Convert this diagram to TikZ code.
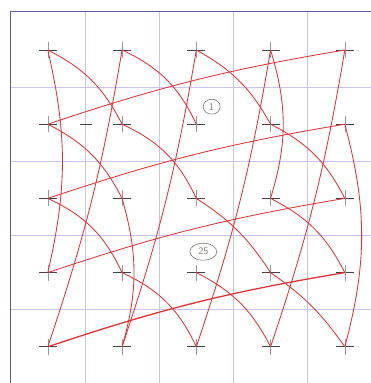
\documentclass[tikz,border=0pt]{standalone}
\usetikzlibrary{calc,shapes.geometric}
\definecolor{redline}{RGB}{226,52,56}
\definecolor{gridc}{RGB}{200,196,234}
\definecolor{borderc}{RGB}{92,88,160}
\definecolor{crossc}{RGB}{70,66,72}
\definecolor{pencil}{RGB}{120,120,115}
\begin{document}
\begin{tikzpicture}[x=1pt,y=1pt,
  rc/.style={draw=redline,line width=0.85pt},
  rcthick/.style={draw=redline,line width=1.3pt},
  gridline/.style={draw=gridc,line width=0.8pt},
  borderline/.style={draw=borderc,line width=1pt},
  crossh/.style={draw=crossc,line width=0.7pt},
  crossv/.style={draw=crossc!55,line width=0.5pt},
  tag/.style={draw=pencil,ellipse,inner sep=0pt,line width=0.6pt,text=pencil,font=\sffamily\fontsize{10}{10}\selectfont}]
\useasboundingbox (0,0) rectangle (371,383);
\fill[white] (0,0) rectangle (371,383);
% grid
\foreach \x in {84.9,159.1,233.4,307.7} \draw[gridline] (\x,0) -- (\x,371);
\foreach \y in {295.9,221.6,147.4,73.2} \draw[gridline] (10.7,\y) -- (371,\y);
\draw[borderline] (10.7,0) -- (10.7,371) -- (371,371);
% points
\foreach \i in {1,...,5} {
  \foreach \j in {1,...,5} {
    \coordinate (P\i\j) at ({47.8+74.25*(\i-1)},{333-74.2*(\j-1)});
    \draw[crossh] ($(P\i\j)+(-9,0)$) -- ($(P\i\j)+(9,0)$);
    \draw[crossv] ($(P\i\j)+(0,-8)$) -- ($(P\i\j)+(0,8)$);
  }
}
\coordinate (D) at (86,259);
\draw[crossh] ($(D)+(-6,0)$) -- ($(D)+(6,0)$);
% near-vertical lines
\draw[rc] (P15) to[bend right=4.5] (P21);
\draw[rc] (P25) to[bend right=4.5] (P31);
\draw[rc] (P35) to[bend right=4.5] (P41);
\draw[rc] (P45) to[bend right=4.5] (P51);
% near-horizontal lines
\draw[rc] (P12) to[bend left=4.5] (P51);
\draw[rc] (P13) to[bend left=4.5] (P52);
\draw[rc] (P14) to[bend left=4.5] (P53);
\draw[rcthick] (P15) to[bend left=4.5] (P54);
% diagonal arcs
\draw[rc] (P11) to[bend left=18] (P22) to[bend left=20] (P33) to[bend left=12] (P44) to[bend left=10] (P55);
\draw[rc] (P21) to[bend left=20] (P32);
\draw[rc] (P43) to[bend left=18] (P54);
\draw[rc] (P31) to[bend left=16] (P42) to[bend left=18] (P53);
\draw[rc] (P12) to[bend left=18] (P23);
\draw[rc] (P34) to[bend left=18] (P45);
\draw[rc] (P13) to[bend left=20] (P24) to[bend left=20] (P35);
% vertical arcs
\draw[rc] (P11) to[bend left=13] (P14);
\draw[rc] (P52) to[bend left=15] (P55);
\draw[rc] (P41) to[bend left=17] (P43);
\draw[rc] (P23) to[bend left=16] (P25);
% tags
\node[tag,minimum width=17,minimum height=15] (t1) at (211.7,276.3) {1};
\node[tag,minimum width=27,minimum height=17] (t25) at (203.3,131.3) {25};
\end{tikzpicture}
\end{document}
